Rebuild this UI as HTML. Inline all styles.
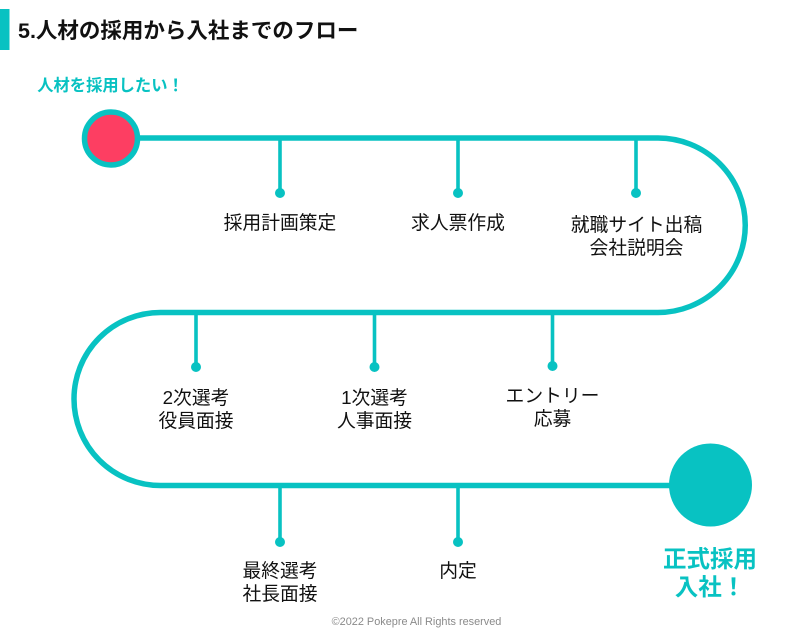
<!DOCTYPE html>
<html lang="ja">
<head>
<meta charset="utf-8">
<style>
html,body{margin:0;padding:0;background:#fff}
body{width:800px;height:639px;overflow:hidden;position:relative}
svg{display:block;position:absolute;left:0;top:0}
text{font-family:"Liberation Sans","Noto Sans CJK JP",sans-serif;fill:#111}
.l{font-size:18.8px;text-anchor:middle}
.t{fill:#08c2c2;font-weight:bold;text-anchor:middle}
</style>
</head>
<body>
<svg width="800" height="639" viewBox="0 0 800 639">
<rect x="0" y="9" width="9.5" height="41" fill="#08c2c2"/>
<text x="18" y="38" font-size="21.5" font-weight="bold">5.人材の採用から入社までのフロー</text>
<text class="t" x="110.5" y="91" font-size="16.3">人材を採用したい！</text>

<path d="M111 138 H658 A87 87 0 0 1 658 312.5 H160.5 A86.5 86.5 0 0 0 160.5 485.5 H710" fill="none" stroke="#08c2c2" stroke-width="5.5"/>

<g stroke="#08c2c2" stroke-width="3.6">
<line x1="280" y1="138" x2="280" y2="193"/>
<line x1="458" y1="138" x2="458" y2="193"/>
<line x1="636" y1="138" x2="636" y2="193"/>
<line x1="196" y1="312" x2="196" y2="367"/>
<line x1="374.5" y1="312" x2="374.5" y2="367"/>
<line x1="552.5" y1="312" x2="552.5" y2="366"/>
<line x1="280" y1="485" x2="280" y2="542"/>
<line x1="458" y1="485" x2="458" y2="542"/>
</g>
<g fill="#08c2c2">
<circle cx="280" cy="193" r="5"/>
<circle cx="458" cy="193" r="5"/>
<circle cx="636" cy="193" r="5"/>
<circle cx="196" cy="367" r="5"/>
<circle cx="374.5" cy="367" r="5"/>
<circle cx="552.5" cy="366" r="5"/>
<circle cx="280" cy="542" r="5"/>
<circle cx="458" cy="542" r="5"/>
<circle cx="710.5" cy="485" r="41.5"/>
</g>
<circle cx="111" cy="138.5" r="26.5" fill="#fd3e62" stroke="#08c2c2" stroke-width="5.5"/>

<text class="l" x="280" y="229">採用計画策定</text>
<text class="l" x="458" y="229">求人票作成</text>
<text class="l" x="636.5" y="231">就職サイト出稿</text>
<text class="l" x="636.5" y="254">会社説明会</text>
<text class="l" x="196" y="404">2次選考</text>
<text class="l" x="196" y="427">役員面接</text>
<text class="l" x="374.5" y="404">1次選考</text>
<text class="l" x="374.5" y="427">人事面接</text>
<text class="l" x="552.5" y="402">エントリー</text>
<text class="l" x="552.5" y="425">応募</text>
<text class="l" x="280" y="577">最終選考</text>
<text class="l" x="280" y="600">社長面接</text>
<text class="l" x="458" y="577">内定</text>

<text class="t" x="710" y="567" font-size="23.5">正式採用</text>
<text class="t" x="710" y="595" font-size="23.5">入社！</text>
<text x="416.5" y="625" font-size="10.9" text-anchor="middle" style="fill:#8a8a8a">©2022 Pokepre All Rights reserved</text>
</svg>
</body>
</html>
